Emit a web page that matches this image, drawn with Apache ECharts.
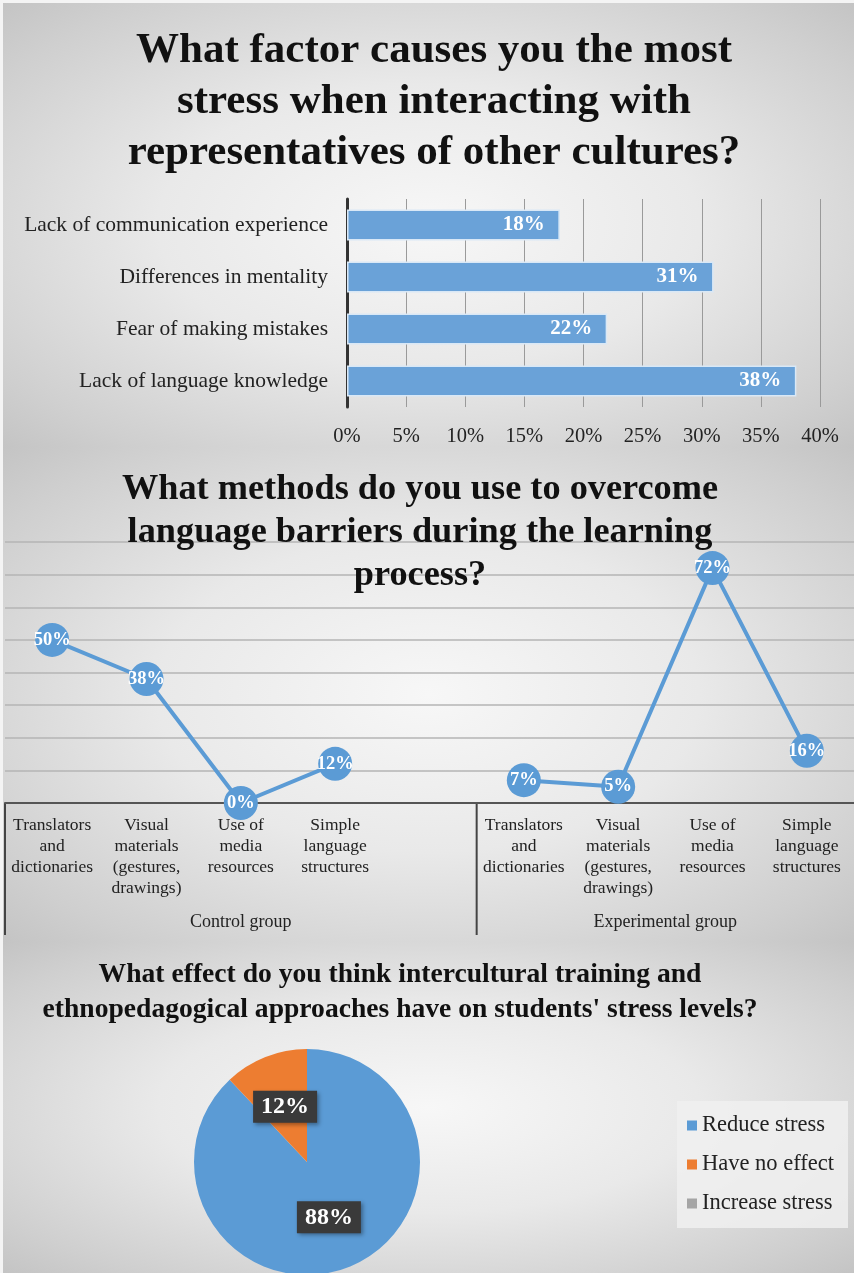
<!DOCTYPE html>
<html>
<head>
<meta charset="utf-8">
<script src="https://cdn.jsdelivr.net/npm/echarts@6/dist/echarts.min.js"></script>
<style>
  html, body { margin: 0; padding: 0; background: #f4f4f4; }
  #wrap { position: relative; width: 854px; height: 1273px; overflow: hidden; }
  .panel { position: absolute; left: 3px; width: 851px;
    background: radial-gradient(ellipse at 50% 50%, #f7f7f7 0%, #e9e9e9 45%, #cfcfcf 85%, #c4c4c4 100%); }
  #chart { position: absolute; left: 0; top: 0; width: 854px; height: 1273px; }
</style>
</head>
<body>
<div id="wrap">
  <div class="panel" style="top:3px;height:444px;"></div>
  <div class="panel" style="top:447px;height:495px;"></div>
  <div class="panel" style="top:942px;height:331px;"></div>
  <div id="chart"></div>
</div>
<script>
// ---- Chart 1: stress factors (bar) ----
const stressFactors = ['Lack of communication experience', 'Differences in mentality', 'Fear of making mistakes', 'Lack of language knowledge'];
const stressValues = [18, 31, 22, 38];
const stressTicks = ['0%', '5%', '10%', '15%', '20%', '25%', '30%', '35%', '40%'];

// ---- Chart 2: methods (line, two groups) ----
const methodCategories = ['Translators\nand\ndictionaries', 'Visual\nmaterials\n(gestures,\ndrawings)', 'Use of\nmedia\nresources', 'Simple\nlanguage\nstructures', '',
  'Translators\nand\ndictionaries', 'Visual\nmaterials\n(gestures,\ndrawings)', 'Use of\nmedia\nresources', 'Simple\nlanguage\nstructures'];
const controlValues = [50, 38, 0, 12];
const experimentalValues = [7, 5, 72, 16];
const groupNames = ['Control group', 'Experimental group'];
const methodValues = controlValues.concat([null], experimentalValues);

// ---- Chart 3: effect (pie) ----
const effectNames = ['Reduce stress', 'Have no effect', 'Increase stress'];
const effectValues = [88, 12, 0];
const effectColors = ['#5b9bd5', '#ed7d31', '#a5a5a5'];

const titles = [
  'What factor causes you the most\nstress when interacting with\nrepresentatives of other cultures?',
  'What methods do you use to overcome\nlanguage barriers during the learning\nprocess?',
  'What effect do you think intercultural training and\nethnopedagogical approaches have on students\' stress levels?'
];

const FONT = '"Liberation Serif", "Times New Roman", serif';
const chart = echarts.init(document.getElementById('chart'));

const option = {
  backgroundColor: 'transparent',
  textStyle: { fontFamily: FONT },
  animation: false,
  title: [
    { text: titles[0], left: 429, top: 20, textAlign: 'center',
      textStyle: { fontFamily: FONT, fontSize: 43, fontWeight: 'bold', lineHeight: 51, color: '#111' } },
    { text: titles[1], left: 415, top: 463, textAlign: 'center',
      textStyle: { fontFamily: FONT, fontSize: 36.3, fontWeight: 'bold', lineHeight: 43, color: '#111' } },
    { text: titles[2], left: 395, top: 952, textAlign: 'center',
      textStyle: { fontFamily: FONT, fontSize: 27.6, fontWeight: 'bold', lineHeight: 35, color: '#111' } }
  ],
  legend: {
    orient: 'vertical', left: 677, top: 1101,
    data: effectNames,
    icon: 'rect', itemWidth: 10, itemHeight: 10, itemGap: 16,
    backgroundColor: 'rgba(240,240,240,0.85)',
    padding: [13, 14, 13, 10],
    textStyle: { fontFamily: FONT, fontSize: 22.5, color: '#222' }
  },
  grid: [
    { left: 347, right: 34, top: 199, height: 208 },
    { left: 5, right: -6, top: 542, height: 261 }
  ],
  xAxis: [
    { type: 'value', gridIndex: 0, min: 0, max: 40, interval: 5,
      axisLine: { show: false }, axisTick: { show: false },
      splitLine: { show: true, lineStyle: { color: '#9a9a9a', width: 1 } },
      axisLabel: { formatter: v => stressTicks[v / 5], fontFamily: FONT, fontSize: 20.5, color: '#222', margin: 19 } },
    { type: 'category', gridIndex: 1, data: methodCategories, boundaryGap: true,
      axisLine: { show: true, lineStyle: { color: '#555', width: 2 } },
      axisTick: { show: false },
      axisLabel: { interval: 0, fontFamily: FONT, fontSize: 17.5, lineHeight: 21, color: '#222', margin: 12 } }
  ],
  yAxis: [
    { type: 'category', gridIndex: 0, data: stressFactors, inverse: true,
      axisLine: { show: true, lineStyle: { color: '#333', width: 3 } },
      axisTick: { show: false },
      axisLabel: { fontFamily: FONT, fontSize: 21.5, color: '#222', margin: 19 } },
    { type: 'value', gridIndex: 1, min: 0, max: 80, interval: 10,
      axisLine: { show: false }, axisTick: { show: false }, axisLabel: { show: false },
      splitLine: { show: true, lineStyle: { color: '#b4b4b4', width: 1.5 } } }
  ],
  series: [
    { type: 'bar', xAxisIndex: 0, yAxisIndex: 0, data: stressValues,
      barCategoryGap: '40%',
      itemStyle: { color: '#6aa2d8', borderColor: '#d9e8f6', borderWidth: 1.5 },
      label: { show: true, position: 'insideRight', distance: 15, formatter: '{c}%',
        color: '#fff', fontWeight: 'bold', fontSize: 21, fontFamily: FONT } },
    { type: 'line', xAxisIndex: 1, yAxisIndex: 1, data: methodValues, connectNulls: false, clip: false,
      symbol: 'circle', symbolSize: 34,
      lineStyle: { color: '#5b9bd5', width: 4 },
      itemStyle: { color: '#5b9bd5' },
      label: { show: true, position: 'inside', formatter: '{c}%', color: '#fff',
        fontWeight: 'bold', fontSize: 18.5, fontFamily: FONT },
      z: 5 },
    { type: 'pie', center: [307, 1162], radius: 113, startAngle: 90, clockwise: true,
      avoidLabelOverlap: false,
      data: effectNames.map((n, i) => ({ name: n, value: effectValues[i], itemStyle: { color: effectColors[i] },
        label: effectValues[i] === 0 ? { show: false } : undefined })),
      labelLine: { show: false },
      label: { show: true, position: 'inside', formatter: '{c}%', color: '#fff', fontWeight: 'bold',
        fontSize: 24, fontFamily: FONT, backgroundColor: '#3a3a3a', padding: [5, 8, 3, 8],
        shadowColor: 'rgba(0,0,0,0.35)', shadowBlur: 4, shadowOffsetX: 2, shadowOffsetY: 2 } }
  ]
};
chart.setOption(option);

// Multi-level category axis: group separators and group names, placed via axis scale
const xa = i => chart.convertToPixel({ xAxisIndex: 1 }, i);
const band = xa(1) - xa(0);
const y0 = chart.convertToPixel({ yAxisIndex: 1 }, 0);
const nCtrl = controlValues.length + 1;
const bounds = [xa(0) - band / 2, xa(nCtrl - 1) + band / 2, xa(methodCategories.length - 1) + band / 2];
const graphics = bounds.slice(0, 2).map(x => ({
  type: 'line', shape: { x1: x, y1: y0, x2: x, y2: y0 + 132 },
  style: { stroke: '#444', lineWidth: 2 }
}));
graphics.push({ type: 'text', x: (bounds[0] + bounds[1]) / 2, y: y0 + 119,
  style: { text: groupNames[0], font: '18px ' + FONT, fill: '#222', align: 'center', verticalAlign: 'middle' } });
graphics.push({ type: 'text', x: (bounds[1] + bounds[2]) / 2, y: y0 + 119,
  style: { text: groupNames[1], font: '18px ' + FONT, fill: '#222', align: 'center', verticalAlign: 'middle' } });
chart.setOption({ graphic: graphics });
</script>
</body>
</html>
